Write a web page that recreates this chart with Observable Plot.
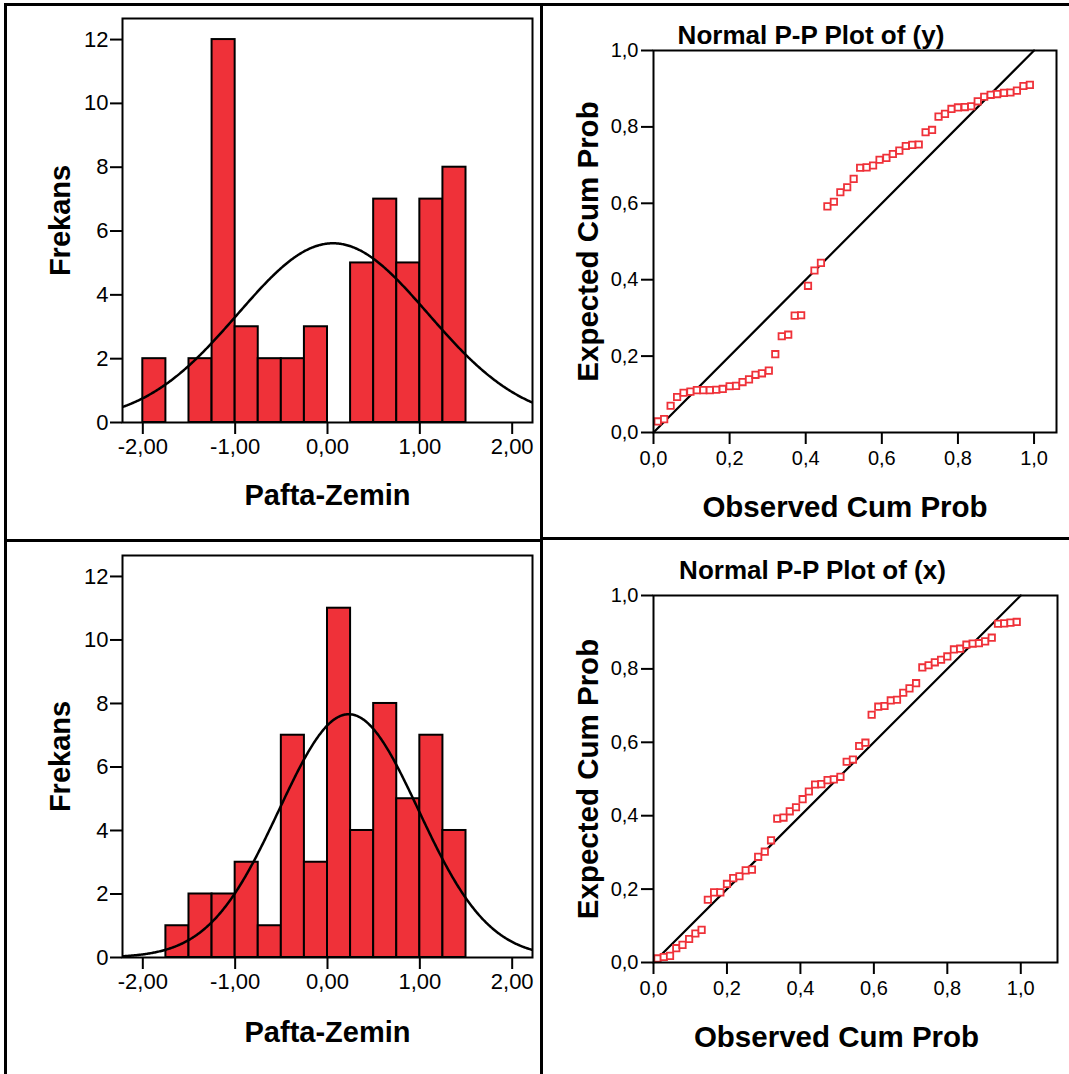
<!DOCTYPE html>
<html><head><meta charset="utf-8">
<script src="https://cdn.jsdelivr.net/npm/d3@7"></script>
<script src="https://cdn.jsdelivr.net/npm/@observablehq/plot@0.6"></script>
<style>
html,body{margin:0;padding:0;background:#fff;}
#root{position:relative;width:1069px;height:1074px;overflow:hidden;font-family:"Liberation Sans",Arial,sans-serif;background:#fff;}
.panel{position:absolute;}
.rule{position:absolute;background:#000;}
</style></head><body><div id="root"></div>
<script>
// ---- Histogram data (Pafta-Zemin) ----
const binStarts = [-2.00,-1.75,-1.50,-1.25,-1.00,-0.75,-0.50,-0.25,0.00,0.25,0.50,0.75,1.00,1.25];
const binWidth = 0.25;
const countsY = [2,0,2,12,3,2,2,3,0,5,7,5,7,8];
const countsX = [0,1,2,2,3,1,7,3,11,4,8,5,7,4];
const fitY = {mean: 0.06, sd: 1.03};
const fitX = {mean: 0.23, sd: 0.755};
const histXTicks = [-2,-1,0,1,2];
const histYTicks = [0,2,4,6,8,10,12];

// ---- P-P data ----
const observedCum = [0.011,0.028,0.045,0.062,0.079,0.097,0.114,0.131,0.148,0.165,
  0.182,0.200,0.217,0.234,0.251,0.268,0.285,0.303,0.320,0.337,
  0.354,0.371,0.388,0.406,0.423,0.440,0.457,0.474,0.491,0.509,
  0.526,0.543,0.560,0.577,0.594,0.612,0.629,0.646,0.663,0.680,
  0.697,0.715,0.732,0.749,0.766,0.783,0.800,0.818,0.835,0.852,
  0.869,0.886,0.903,0.921,0.938,0.955,0.972,0.989];
const expectedY = [0.029,0.035,0.070,0.093,0.104,0.107,0.111,0.111,0.111,0.112,
  0.114,0.121,0.122,0.132,0.139,0.151,0.155,0.162,0.205,0.252,
  0.256,0.306,0.307,0.384,0.424,0.444,0.592,0.604,0.629,0.642,
  0.664,0.693,0.694,0.699,0.714,0.719,0.729,0.738,0.750,0.753,
  0.754,0.786,0.792,0.827,0.834,0.847,0.851,0.852,0.854,0.867,
  0.879,0.884,0.886,0.889,0.890,0.895,0.907,0.910];
const expectedX = [0.011,0.015,0.018,0.039,0.048,0.064,0.079,0.089,0.171,0.191,
  0.191,0.214,0.230,0.235,0.251,0.253,0.288,0.302,0.333,0.392,
  0.395,0.412,0.423,0.445,0.466,0.485,0.486,0.497,0.499,0.506,
  0.547,0.553,0.590,0.599,0.675,0.697,0.699,0.714,0.716,0.735,
  0.747,0.761,0.804,0.810,0.818,0.825,0.834,0.853,0.855,0.866,
  0.869,0.870,0.875,0.885,0.923,0.924,0.926,0.928];
const ppTicks = [0,0.2,0.4,0.6,0.8,1.0];
const refLine = [0,1];

const RED = "#ef3139";
const FONT = "Liberation Sans, Arial, Helvetica, sans-serif";
const root = document.getElementById("root");

function place(el, left, top) {
  const d = document.createElement("div");
  d.className = "panel"; d.style.left = left + "px"; d.style.top = top + "px";
  d.appendChild(el); root.appendChild(d);
}
function rule(l, t, w, h) {
  const d = document.createElement("div");
  d.className = "rule";
  Object.assign(d.style, {left: l + "px", top: t + "px", width: w + "px", height: h + "px"});
  root.appendChild(d);
}

function histogram(counts, fit, height, marginTop, labelDy) {
  const bins = binStarts.map((x0, i) => ({x1: x0, x2: x0 + binWidth, n: counts[i]})).filter(d => d.n > 0);
  const total = d3.sum(counts);
  const xs = d3.range(-2.22, 2.2201, 0.01);
  const curve = xs.map(x => ({x, y: total * binWidth * Math.exp(-0.5 * ((x - fit.mean) / fit.sd) ** 2) / (fit.sd * Math.sqrt(2 * Math.PI))}));
  return Plot.plot({
    width: 541, height,
    marginLeft: 122, marginRight: 9, marginTop, marginBottom: 117,
    style: {fontFamily: FONT, fontSize: "22px", color: "#000", background: "transparent", overflow: "visible"},
    x: {domain: [-2.22, 2.22]},
    y: {domain: [0, 12.66]},
    marks: [
      Plot.rectY(bins, {x1: "x1", x2: "x2", y: "n", fill: RED, stroke: "#000", strokeWidth: 2}),
      Plot.line(curve, {x: "x", y: "y", stroke: "#000", strokeWidth: 2.5, clip: true}),
      Plot.frame({stroke: "#000", strokeWidth: 2}),
      Plot.axisX(histXTicks, {tickSize: 12, tickPadding: 4, strokeWidth: 2, label: null, fontSize: 22,
        tickFormat: d => d.toFixed(2).replace(".", ",")}),
      Plot.axisY(histYTicks, {tickSize: 12, tickPadding: 2, strokeWidth: 2, label: null, fontSize: 22,
        tickFormat: d => String(d)}),
      Plot.text(["Pafta-Zemin"], {text: d => d, frameAnchor: "bottom", dy: labelDy, lineAnchor: "middle", textAnchor: "middle",
        fontWeight: "bold", fontSize: 29, fontFamily: FONT}),
      Plot.text(["Frekans"], {text: d => d, frameAnchor: "left", dx: -62, rotate: -90, lineAnchor: "middle", textAnchor: "middle",
        fontWeight: "bold", fontSize: 29, fontFamily: FONT})
    ]
  });
}

function ppPlot(expected, title, height, marginTop, marginBottom, xMax, marginRight, titleDy, titleDx, labelDx) {
  const pts = observedCum.map((o, i) => ({o, e: expected[i]}));
  return Plot.plot({
    width: 528, height,
    marginLeft: 112, marginRight, marginTop, marginBottom,
    style: {fontFamily: FONT, fontSize: "20px", color: "#000", background: "transparent", overflow: "visible"},
    x: {domain: [0, xMax]},
    y: {domain: [0, 1]},
    marks: [
      Plot.line(refLine, {x: d => d, y: d => d, stroke: "#000", strokeWidth: 2.2}),
      Plot.dot(pts, {x: "o", y: "e", symbol: "square", r: 3.6, stroke: RED, strokeWidth: 1.8, fill: "#fff"}),
      Plot.frame({stroke: "#000", strokeWidth: 2}),
      Plot.axisX(ppTicks, {tickSize: 12, tickPadding: 6, strokeWidth: 2, label: null, fontSize: 20,
        tickFormat: d => d.toFixed(1).replace(".", ",")}),
      Plot.axisY(ppTicks, {tickSize: 12, tickPadding: 3, strokeWidth: 2, label: null, fontSize: 20,
        tickFormat: d => d.toFixed(1).replace(".", ",")}),
      Plot.text([title], {text: d => d, frameAnchor: "top", dy: titleDy, dx: titleDx, lineAnchor: "middle", textAnchor: "middle",
        fontWeight: "bold", fontSize: 26, fontFamily: FONT}),
      Plot.text(["Observed Cum Prob"], {text: d => d, frameAnchor: "bottom", dy: 75, dx: labelDx, lineAnchor: "middle", textAnchor: "middle",
        fontWeight: "bold", fontSize: 29.5, fontFamily: FONT}),
      Plot.text(["Expected Cum Prob"], {text: d => d, frameAnchor: "left", dx: -65, rotate: -90, lineAnchor: "middle", textAnchor: "middle",
        fontWeight: "bold", fontSize: 29.5, fontFamily: FONT})
    ]
  });
}

place(histogram(countsY, fitY, 539, 18, 73), 0, 0);
place(histogram(countsX, fitX, 535, 16, 75), 0, 539);
place(ppPlot(expectedY, "Normal P-P Plot of (y)", 539, 50, 107, 1.059, 13, -15, -44, -10), 541, 0);
place(ppPlot(expectedX, "Normal P-P Plot of (x)", 535, 56, 112, 1.10, 12, -25, -43, -19), 541, 539);

// panel separators
rule(4, 3, 1065, 3);
rule(4, 3, 3, 1071);
rule(540, 3, 3, 1071);
rule(4, 539, 539, 3);
rule(540, 537, 529, 3);
</script></body></html>
